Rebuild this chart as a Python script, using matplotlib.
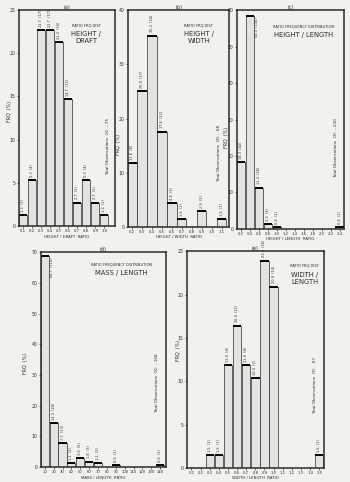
import numpy as np
import matplotlib
matplotlib.use("Agg")
import matplotlib.pyplot as plt

# (a) height / draft
hd_x = [0.1, 0.2, 0.3, 0.4, 0.5, 0.6, 0.7, 0.8, 0.9, 1.0]
hd_frq = [1.3, 5.3, 22.7, 22.7, 21.3, 14.7, 2.7, 5.3, 2.7, 1.3]
hd_n = [1, 4, 17, 17, 16, 11, 2, 4, 2, 1]

# (b) height / width
hw_x = [0.2, 0.3, 0.4, 0.5, 0.6, 0.7, 0.8, 0.9, 1.0, 1.1]
hw_frq = [11.8, 25.0, 35.3, 17.6, 4.4, 1.5, 0, 2.9, 0, 1.5]
hw_n = [8, 17, 24, 12, 3, 1, 0, 2, 0, 1]

# (c) height / length
hl_x = [0.2, 0.4, 0.6, 0.8, 1.0, 1.2, 1.4, 1.6, 1.8, 2.0, 2.2, 2.4]
hl_frq = [18.3, 58.3, 11.3, 1.3, 0.4, 0, 0, 0, 0, 0, 0, 0.4]
hl_n = [42, 134, 26, 3, 1, 0, 0, 0, 0, 0, 0, 1]

# (d) mass / length
ml_x = [10, 20, 30, 40, 50, 60, 70, 80, 90, 100, 110, 120, 130, 140]
ml_frq = [68.7, 14.3, 7.7, 1.2, 3.0, 1.8, 1.2, 0, 0.6, 0, 0, 0, 0, 0.6]
ml_n = [115, 24, 13, 2, 5, 3, 2, 0, 1, 0, 0, 0, 0, 1]

# (e) width / length
wl_x = [0.1, 0.2, 0.3, 0.4, 0.5, 0.6, 0.7, 0.8, 0.9, 1.0, 1.1, 1.2, 1.3, 1.4, 1.5]
wl_frq = [0, 0, 1.5, 1.5, 11.9, 16.4, 11.9, 10.4, 23.9, 20.9, 0, 0, 0, 0, 1.5]
wl_n = [0, 0, 1, 1, 8, 11, 8, 7, 16, 14, 0, 0, 0, 0, 1]

INK = '#2b2b2b'
PAPER = '#f3f1ec'
BAR = '#e3e3e1'

fig = plt.figure(figsize=(3.5, 4.82), dpi=100, facecolor=PAPER)


def panel(rect, x, frq, n, step, xlim, ylim, yticks, letter, xlabel,
          head, name, total, head_xy, name_y, tot_x, tot_y, ylab_xy,
          side=()):
    ax = fig.add_axes(rect)
    ax.set_facecolor(PAPER)
    w = step * 0.92
    ax.bar(x, frq, width=w, color=BAR, edgecolor=INK, linewidth=0.5)
    for i, (xi, f, k) in enumerate(zip(x, frq, n)):
        if f <= 0:
            continue
        ax.plot([xi - w / 2, xi + w / 2], [f, f], color='black', lw=1.4,
                solid_capstyle='butt')
        lab = '%.1f  (%d)' % (f, k)
        if i in side:
            # tallest bar: label sits beside the bar, reading down from the top
            ax.text(xi + w / 2 + step * 0.3, f - ylim * 0.005, lab, rotation=90,
                    ha='center', va='top', fontsize=2.5, color=INK)
        else:
            ax.text(xi, f + ylim * 0.015, lab, rotation=90, ha='center',
                    va='bottom', fontsize=2.5, color=INK, clip_on=False)
    ax.set_xlim(*xlim)
    ax.set_ylim(0, ylim)
    ax.set_xticks(x)
    ax.set_xticklabels([('%g' % v) if step >= 1 else '%.1f' % v for v in x])
    ax.set_yticks(yticks)
    ax.tick_params(axis='x', labelsize=2.7, length=1.2, width=0.5, pad=1.2,
                   colors=INK)
    ax.tick_params(axis='y', labelsize=3.3, length=1.5, width=0.5, pad=1.2,
                   colors=INK)
    for s in ax.spines.values():
        s.set_linewidth(1.1)
        s.set_color(INK)
    ax.set_ylabel('FRQ  (%)', fontsize=3.4, color=INK)
    ax.yaxis.set_label_coords(*ylab_xy)
    ax.set_xlabel(xlabel, fontsize=2.8, color=INK, labelpad=0.8)
    ax.set_title(letter, fontsize=3.6, color=INK, pad=1)
    ax.text(head_xy[0], head_xy[1], head, transform=ax.transAxes, ha='center',
            va='center', fontsize=2.6, color=INK)
    ax.text(head_xy[0], name_y, name, transform=ax.transAxes, ha='center',
            va='top', fontsize=4.9, color=INK, linespacing=1.25)
    ax.text(tot_x, tot_y, 'Total Observations  (X)  - %d' % total,
            transform=ax.transAxes, rotation=90, ha='center', va='center',
            fontsize=3.0, color=INK)
    return ax


panel([0.054, 0.531, 0.274, 0.448], hd_x, hd_frq, hd_n, 0.1, (0.056, 1.116),
      25, [0, 5, 10, 15, 20, 25], '(a)', 'HEIGHT / DRAFT  RATIO',
      'RATIO FRQ DIST', 'HEIGHT /\nDRAFT', 75, (0.70, 0.93), 0.905, 0.93, 0.37,
      (-0.075, 0.53))

panel([0.366, 0.529, 0.289, 0.450], hw_x, hw_frq, hw_n, 0.1, (0.16, 1.175),
      40, [0, 10, 20, 30, 40], '(b)', 'HEIGHT / WIDTH  RATIO',
      'RATIO FRQ DIST', 'HEIGHT /\nWIDTH', 68, (0.70, 0.93), 0.905, 0.90, 0.34,
      (-0.07, 0.38))

panel([0.677, 0.525, 0.306, 0.454], hl_x, hl_frq, hl_n, 0.2, (0.115, 2.50),
      60, [0, 10, 20, 30, 40, 50, 60], '(c)', 'HEIGHT / LENGTH  RATIO',
      'RATIO FREQUENCY DISTRIBUTION', 'HEIGHT / LENGTH', 230, (0.62, 0.927),
      0.90, 0.93, 0.37, (-0.07, 0.42), side=(1,))

panel([0.117, 0.031, 0.357, 0.446], ml_x, ml_frq, ml_n, 10, (5.7, 146.5),
      70, [0, 10, 20, 30, 40, 50, 60, 70], '(d)', 'MASS / LENGTH  RATIO',
      'RATIO FREQUENCY DISTRIBUTION', 'MASS / LENGTH', 168, (0.645, 0.94),
      0.915, 0.93, 0.39, (-0.1, 0.48), side=(0,))

panel([0.534, 0.029, 0.391, 0.450], wl_x, wl_frq, wl_n, 0.1, (0.05, 1.55),
      25, [0, 5, 10, 15, 20, 25], '(e)', 'WIDTH / LENGTH  RATIO',
      'RATIO FRQ DIST', 'WIDTH /\nLENGTH', 67, (0.86, 0.935), 0.905, 0.94, 0.38,
      (-0.04, 0.54))

fig.savefig('out.png', dpi=100, facecolor=PAPER)
